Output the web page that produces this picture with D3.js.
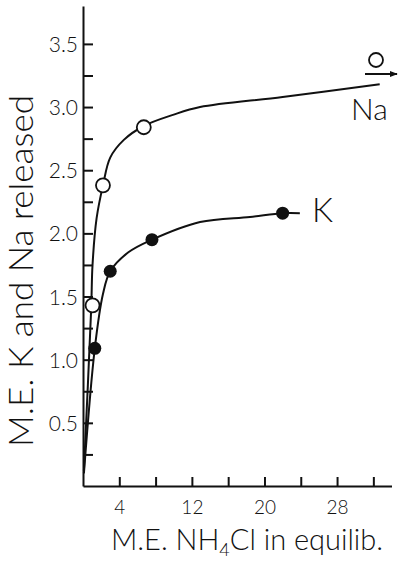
<!DOCTYPE html>
<html>
<head>
<meta charset="utf-8">
<script src="https://cdn.jsdelivr.net/npm/d3@7"></script>
<style>
  html, body { margin: 0; padding: 0; background: #fff; }
  svg { display: block; }
  text { font-family: Lato, "Open Sans", sans-serif; font-weight: 300; fill: #111; }
</style>
</head>
<body>
<svg id="chart" width="399" height="569"></svg>
<script>
// Measured points (M.E. NH4Cl in equilibrium vs. M.E. released)
const naX = [1.05, 2.2, 6.7];
const naY = [1.43, 2.38, 2.84];
const kX = [1.3, 3.0, 7.6, 22.0];
const kY = [1.09, 1.70, 1.95, 2.16];

// Smoothed curves drawn through the data
const naCurveX = [0.1, 0.9, 1.05, 1.5, 2.2, 3.0, 4.5, 6.7, 10, 12.9, 22, 32.7];
const naCurveY = [0.12, 1.40, 1.75, 2.12, 2.38, 2.60, 2.74, 2.85, 2.94, 3.0, 3.08, 3.18];
const kCurveX = [0.1, 1.3, 2.2, 3.0, 5.0, 7.6, 12.9, 18.4, 22, 23.9];
const kCurveY = [0.10, 1.09, 1.52, 1.70, 1.85, 1.95, 2.09, 2.13, 2.16, 2.16];

// Axis ticks
const yTicks = [0.25, 0.5, 0.75, 1.0, 1.25, 1.5, 1.75, 2.0, 2.25, 2.5, 2.75, 3.0, 3.25, 3.5];
const yLabels = [0.5, 1.0, 1.5, 2.0, 2.5, 3.0, 3.5];
const xTicks = [4, 8, 12, 16, 20, 24, 28, 32];
const xLabels = [4, 12, 20, 28];

const svg = d3.select("#chart");
const x = d3.scaleLinear().domain([0, 34]).range([83, 391.5]);
const y = d3.scaleLinear().domain([0, 3.8]).range([486, 6]);

// Y axis: ticks point inward, labels only on the half units
const yAxis = d3.axisLeft(y)
  .tickValues(yTicks)
  .tickSizeInner(-10)
  .tickSizeOuter(0)
  .tickPadding(5)
  .tickFormat(d => yLabels.includes(d) ? d3.format(".1f")(d) : "");
const gy = svg.append("g").attr("transform", `translate(${x(0)},0)`).call(yAxis);
gy.selectAll("text").style("font-size", "21px").style("font-family", "Lato, sans-serif").style("font-weight", 300).attr("dy", "0.36em");

// X axis
const xAxis = d3.axisBottom(x)
  .tickValues(xTicks)
  .tickSizeInner(-9)
  .tickSizeOuter(0)
  .tickPadding(15)
  .tickFormat(d => xLabels.includes(d) ? d : "");
const gx = svg.append("g").attr("transform", `translate(0,${y(0)})`).call(xAxis);
gx.selectAll("text").style("font-size", "19px").style("font-family", "Lato, sans-serif").style("font-weight", 300);

svg.selectAll(".domain, .tick line").attr("stroke", "#111").attr("stroke-width", 2);

const line = d3.line().x(d => x(d[0])).y(d => y(d[1])).curve(d3.curveCatmullRom.alpha(0.5));

svg.append("path")
  .datum(naCurveX.map((v, i) => [v, naCurveY[i]]))
  .attr("d", line).attr("fill", "none").attr("stroke", "#111").attr("stroke-width", 2);
svg.append("path")
  .datum(kCurveX.map((v, i) => [v, kCurveY[i]]))
  .attr("d", line).attr("fill", "none").attr("stroke", "#111").attr("stroke-width", 2);

// Na: open circles
svg.selectAll(".na").data(naX.map((v, i) => [v, naY[i]])).join("circle")
  .attr("cx", d => x(d[0])).attr("cy", d => y(d[1])).attr("r", 7)
  .attr("fill", "#fff").attr("stroke", "#111").attr("stroke-width", 1.8);

// K: filled circles
svg.selectAll(".k").data(kX.map((v, i) => [v, kY[i]])).join("circle")
  .attr("cx", d => x(d[0])).attr("cy", d => y(d[1])).attr("r", 6.5)
  .attr("fill", "#111");

// Series labels
svg.append("text").attr("x", 312).attr("y", 222).style("font-size", "33px").text("K");
svg.append("text").attr("x", 351).attr("y", 120).style("font-size", "30px").text("Na");
svg.append("circle").attr("cx", 376).attr("cy", 60).attr("r", 7)
  .attr("fill", "none").attr("stroke", "#111").attr("stroke-width", 1.8);
svg.append("defs").append("marker")
  .attr("id", "arrow").attr("viewBox", "0 0 10 10").attr("refX", 9).attr("refY", 5)
  .attr("markerWidth", 4).attr("markerHeight", 4).attr("orient", "auto")
  .append("path").attr("d", "M0,1 L10,5 L0,9 Z").attr("fill", "#111");
svg.append("line").attr("x1", 365).attr("y1", 74).attr("x2", 397).attr("y2", 74)
  .attr("stroke", "#111").attr("stroke-width", 2).attr("marker-end", "url(#arrow)");

// Axis titles
svg.append("text")
  .attr("transform", "translate(33,271) rotate(-90)")
  .attr("text-anchor", "middle")
  .attr("textLength", 352).attr("lengthAdjust", "spacingAndGlyphs")
  .style("font-size", "34px")
  .text("M.E. K and Na released");

const xt = svg.append("text").attr("x", 111).attr("y", 550).style("font-size", "29px");
xt.append("tspan").text("M.E. NH");
xt.append("tspan").attr("dy", 6).style("font-size", "18px").text("4");
xt.append("tspan").attr("dy", -6).text("Cl in equilib.");
</script>
</body>
</html>
